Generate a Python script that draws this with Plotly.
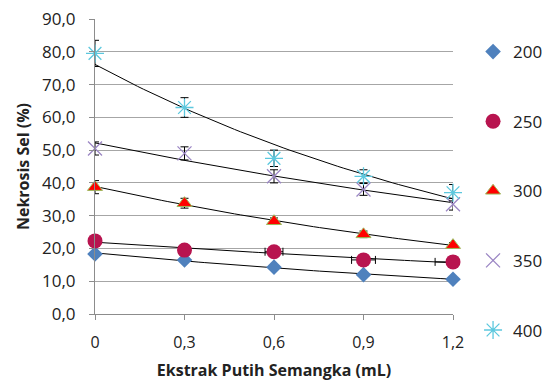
import numpy as np
import plotly.graph_objects as go

x_vals = [0, 0.3, 0.6, 0.9, 1.2]
x_ticktext = ["0", "0,3", "0,6", "0,9", "1,2"]
series_names = ["200", "250", "300", "350", "400"]

y_200 = [18.3, 16.5, 14.3, 12.0, 10.6]
y_250 = [22.3, 19.5, 19.0, 16.5, 15.9]
y_300 = [38.7, 33.8, 28.3, 24.3, 21.0]
y_350 = [50.5, 49.0, 42.0, 38.0, 33.5]
y_400 = [79.5, 63.0, 47.5, 42.0, 37.0]

err_200 = [0.6, 0.6, 0.6, 0.5, 0.5]
err_250 = [0.8, 0.8, 0.8, 0.7, 0.7]
err_300 = [2.0, 1.5, 1.0, 1.0, 0.8]
err_350 = [2.0, 2.0, 2.0, 1.8, 1.8]
err_400 = [4.0, 3.0, 2.5, 2.0, 2.5]
errx_250 = [0.0, 0.02, 0.03, 0.04, 0.06]

y_data = [y_200, y_250, y_300, y_350, y_400]
y_errs = [err_200, err_250, err_300, err_350, err_400]

styles = [
    dict(symbol="diamond", color="#4F81BD", size=12, line=dict(width=0)),
    dict(symbol="circle", color="#B8144F", size=15, line=dict(width=0)),
    dict(symbol="triangle-up", color="#FF0000", size=13, line=dict(width=1, color="#9BBB59")),
    dict(symbol="x-thin-open", color="#9B86C4", size=14, line=dict(width=1.3, color="#9B86C4")),
    dict(symbol="asterisk-open", color="#5CC8DE", size=15, line=dict(width=1.3, color="#5CC8DE")),
]

fig = go.Figure()
xs = np.array(x_vals)
xfit = np.linspace(0, 1.2, 60)
for name, ys in zip(series_names, y_data):
    # exponential trendline fitted to the data
    b, lna = np.polyfit(xs, np.log(ys), 1)
    fig.add_trace(go.Scatter(x=xfit, y=np.exp(lna + b * xfit), mode="lines",
                             line=dict(color="black", width=1), showlegend=False,
                             hoverinfo="skip"))
for name, ys, errs, st in zip(series_names, y_data, y_errs, styles):
    kw = {}
    if name == "250":
        kw["error_x"] = dict(type="data", array=errx_250, color="black", thickness=1, width=4)
    fig.add_trace(go.Scatter(
        x=x_vals, y=ys, mode="markers", name=name, legendgroup=name,
        marker=st, cliponaxis=False,
        error_y=dict(type="data", array=errs, color="black", thickness=1, width=4),
        **kw))

font_family = "Open Sans, Liberation Sans, sans-serif"
# page body adds an 8px offset, so the figure is 8px smaller than the window
fig.update_layout(
    width=542, height=373,
    margin=dict(l=87, r=97, t=11, b=67, autoexpand=False),
    paper_bgcolor="white", plot_bgcolor="white",
    separators=",.",
    font=dict(family=font_family, size=16, color="#222"),
    showlegend=True,
    legend=dict(x=1.056, y=0.949, xanchor="left", yanchor="top",
                tracegroupgap=44.5, font=dict(size=17), itemwidth=30,
                maxheight=380,
                bgcolor="rgba(0,0,0,0)"),
    xaxis=dict(range=[0, 1.2], tickvals=x_vals, ticktext=x_ticktext,
               showgrid=False, zeroline=False, showline=True, linecolor="#8c8c8c",
               ticks="outside", ticklen=5, tickcolor="#8c8c8c", automargin=False,
               ticklabelstandoff=9, ticklabeloverflow="allow",
               title=dict(text="<b>Ekstrak Putih Semangka (mL)</b>", font=dict(size=16), standoff=13),
               tickfont=dict(size=16)),
    yaxis=dict(range=[0, 90], tickvals=[0, 10, 20, 30, 40, 50, 60, 70, 80, 90],
               tickformat=".1f",
               showgrid=True, gridcolor="#a6a6a6", gridwidth=1, zeroline=False,
               showline=True, linecolor="#8c8c8c", automargin=False,
               ticks="outside", ticklen=5, tickcolor="#8c8c8c",
               ticklabelstandoff=10, ticklabeloverflow="allow",
               title=dict(text="<b>Nekrosis Sel (%)</b>", font=dict(size=16), standoff=8),
               tickfont=dict(size=17)),
)
fig.write_html("out.html")
